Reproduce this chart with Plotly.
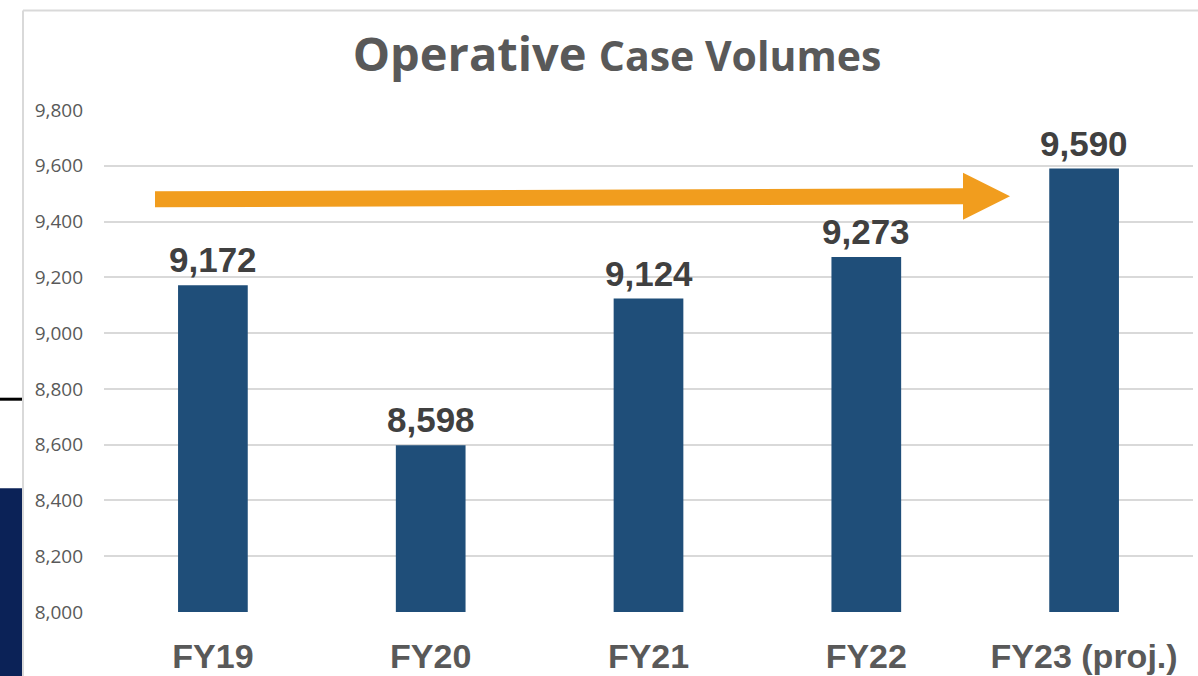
import plotly.graph_objects as go

categories = ["FY19", "FY20", "FY21", "FY22", "FY23 (proj.)"]
volumes = [9172, 8598, 9124, 9273, 9590]
value_labels = ["9,172", "8,598", "9,124", "9,273", "9,590"]
y_ticks = [8000, 8200, 8400, 8600, 8800, 9000, 9200, 9400, 9600, 9800]
y_tick_labels = ["8,000", "8,200", "8,400", "8,600", "8,800", "9,000", "9,200", "9,400", "9,600", "9,800"]

# design coordinates are in a 1198x676 frame; the page is a touch taller
W, H0 = 1198, 676
H = 680
S = H / H0
PL, PR = 104, 5
PT = round(109 * S)
PB = round(H - 610 * S)
PW, PH = W - PL - PR, H - PT - PB

def px(x):
    return (x - PL) / PW

def py(y):
    return (H - PB - y * S) / PH

BAR = "#1F4E79"
GRID = "#D9D9D9"
ORANGE = "#F19D1E"

fig = go.Figure()
fig.add_trace(go.Bar(
    x=categories, y=volumes, marker=dict(color=BAR, line=dict(width=0)),
    hoverinfo="skip",
))

for c, v, t in zip(categories, volumes, value_labels):
    fig.add_annotation(x=c, y=v, text=f"<b>{t}</b>", showarrow=False,
                       yanchor="bottom", yshift=4,
                       font=dict(family="Liberation Sans, Arial", size=35, color="#404040"))

# arrow (decoration)
sx0, sx1, cy0, cy1, hw = 155, 963, 198.5, 195.5, 8
path = (f"M {px(sx0)},{py(cy0-hw)} L {px(sx1)},{py(cy1-hw)} L {px(sx1)},{py(172)} "
        f"L {px(1010)},{py(cy1)} L {px(sx1)},{py(219)} L {px(sx1)},{py(cy1+hw)} "
        f"L {px(sx0)},{py(cy0+hw)} Z")
shapes = [
    dict(type="path", xref="paper", yref="paper", path=path,
         fillcolor=ORANGE, line=dict(width=0), layer="above"),
    # frame of the chart box
    dict(type="line", xref="paper", yref="paper", x0=px(23), x1=px(23), y0=py(10), y1=py(690),
         line=dict(color=GRID, width=2)),
    dict(type="line", xref="paper", yref="paper", x0=px(23), x1=px(1198), y0=py(10), y1=py(10),
         line=dict(color=GRID, width=2)),
    # slide fragments on the left
    dict(type="rect", xref="paper", yref="paper", x0=px(0), x1=px(22), y0=py(396.5), y1=py(399.5),
         fillcolor="#000000", line=dict(width=0)),
    dict(type="rect", xref="paper", yref="paper", x0=px(0), x1=px(22), y0=py(487), y1=py(690),
         fillcolor="#0B2257", line=dict(width=0)),
]

fig.update_layout(
    width=W, height=H,
    margin=dict(l=PL, r=PR, t=PT, b=PB),
    paper_bgcolor="white", plot_bgcolor="white",
    bargap=0.68,
    showlegend=False,
    shapes=shapes,
    title=dict(
        text="<b>Operative</b> <span style='font-size:41px'><b>Case Volumes</b></span>",
        font=dict(family="Open Sans", size=47, color="#595959"),
        x=617 / W, xanchor="center", xref="container",
        y=1 - 54 * S / H, yanchor="middle", yref="container",
    ),
    xaxis=dict(
        type="category", showgrid=False, showline=False, zeroline=False,
        ticks="", ticklabelstandoff=21,
        tickfont=dict(family="Liberation Sans, Arial", size=34, color="#595959"),
        tickvals=categories, ticktext=[f"<b>{c}</b>" for c in categories],
    ),
    yaxis=dict(
        range=[8000, 9800], tickvals=y_ticks, ticktext=y_tick_labels,
        showgrid=True, gridcolor=GRID, gridwidth=1.5, zeroline=False, showline=False,
        ticks="", ticklabelstandoff=20,
        tickfont=dict(family="Open Sans", size=19, color="#595959"),
    ),
)

post = (
    "var de=document.documentElement, b=document.body;"
    "[de,b].forEach(function(e){e.style.margin='0';e.style.padding='0';});"
)
fig.write_html("out.html", config={"displayModeBar": False}, post_script=post)
